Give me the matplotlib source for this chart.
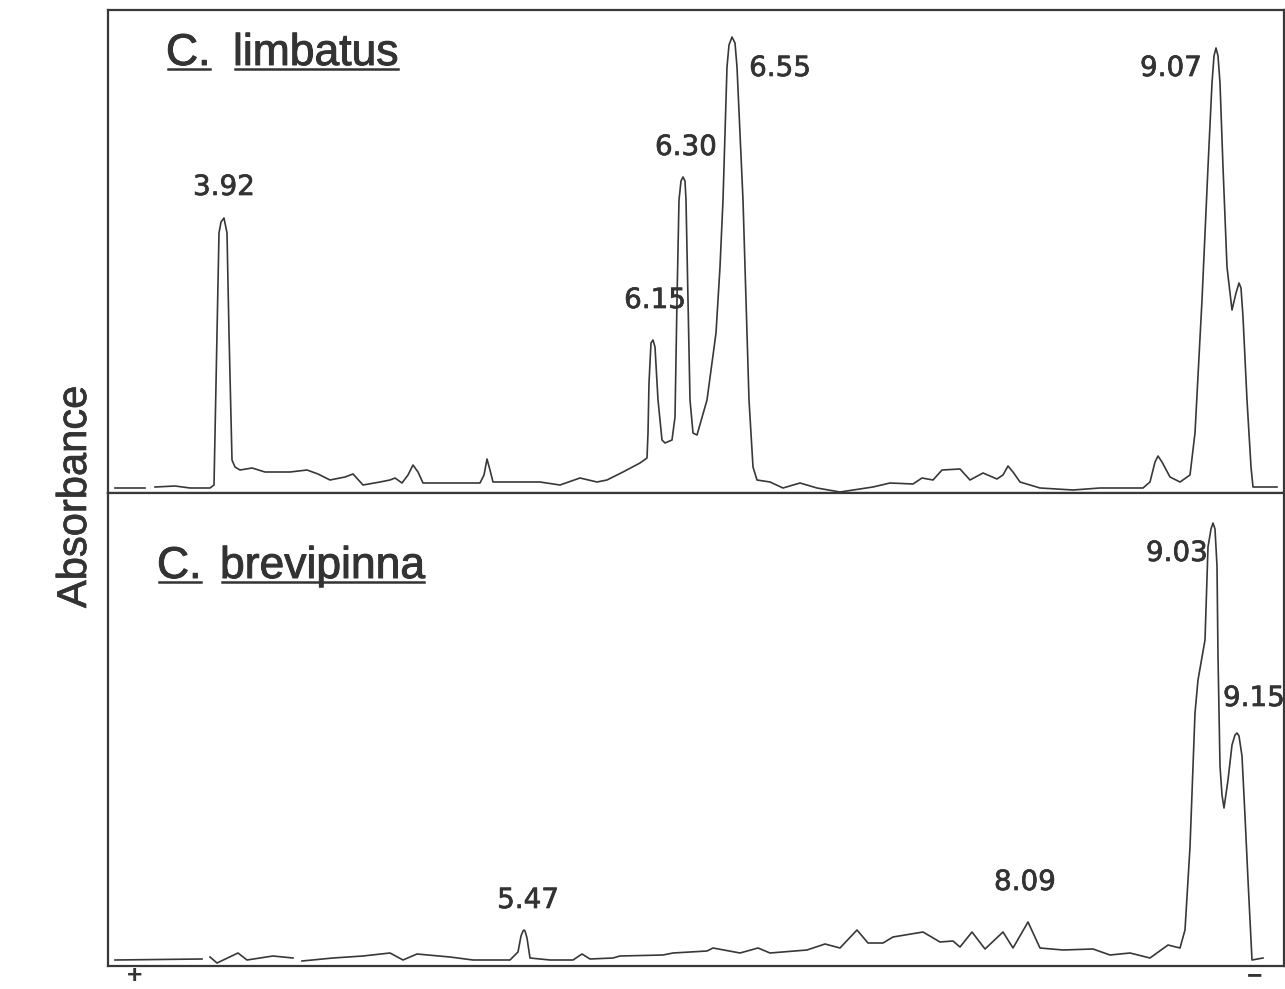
import matplotlib
matplotlib.use('Agg')
import matplotlib.pyplot as plt
from matplotlib.lines import Line2D
from matplotlib.transforms import IdentityTransform
import matplotlib.patheffects as pe

plt.rcParams['font.family'] = ['Liberation Sans', 'DejaVu Sans']

NAN = float('nan')

# ---- C. limbatus densitometer trace (position along gel, mm ; absorbance, arbitrary units)
top_x = [0.7, 3.7, NAN, 4.7, 6.7, 8.2, 10.2, 10.6, 10.9, 11.1, 11.3, 11.6, 11.9, 12.1, 12.4, 12.7,
         13.2, 14.4, 15.7, 18.2, 19.9, 21.0, 22.2, 23.7, 24.5, 25.5, 27.2, 28.2, 28.7, 29.4,
         30.0, 30.5, 31.0, 31.5, 34.2, 37.2, 37.6, 37.9, 38.2, 38.5, 43.2, 45.2, 47.2, 48.9,
         49.9, 51.5, 53.2, 53.9, 54.0, 54.1, 54.3, 54.5, 54.7, 55.0, 55.4, 55.7, 56.4,
         56.7, 56.9, 57.1, 57.3, 57.5, 57.7, 57.8, 58.0, 58.2, 58.5, 58.9,
         59.9, 60.8, 61.2, 61.5, 61.7, 61.9, 62.1, 62.4, 62.7, 62.9, 63.2, 63.5, 63.7, 63.9,
         64.1, 64.5, 64.9, 66.2, 67.5, 69.2, 70.9, 73.2, 76.5, 78.2, 80.5, 81.4, 82.5,
         83.4, 85.2, 86.2, 87.5, 88.9, 89.5, 90.0, 90.5, 91.2, 93.2, 96.5, 99.2, 103.5, 104.2,
         104.7, 105.0, 105.4, 106.2, 107.2, 108.2, 108.7, 109.4, 110.0, 110.4, 110.6, 110.8,
         111.0, 111.2, 111.5, 111.9, 112.4, 112.8, 113.1, 113.3, 113.5, 113.9, 114.3, 114.5,
         116.9]
top_y = [1.0, 1.0, NAN, 1.2, 1.4, 1.0, 1.0, 1.6, 32.0, 52.0, 54.2, 55.0, 52.0, 32.0, 6.6, 5.2,
         4.6, 5.0, 4.2, 4.2, 4.6, 3.8, 2.6, 3.2, 3.8, 1.6, 2.2, 2.6, 3.0, 2.0,
         3.6, 5.6, 4.2, 2.0, 2.0, 2.0, 3.6, 6.8, 4.6, 2.2, 2.2, 1.6, 3.0, 2.2,
         2.6, 4.2, 6.0, 7.0, 12.0, 22.0, 30.0, 30.6, 29.2, 18.6, 10.6, 10.0, 10.6,
         15.2, 38.6, 58.6, 62.4, 63.2, 62.4, 58.6, 38.6, 18.6, 12.0, 11.6,
         18.6, 32.0, 45.2, 58.6, 72.0, 85.2, 89.6, 91.2, 90.0, 85.2, 72.0, 58.6, 45.2, 32.0,
         18.6, 5.2, 2.6, 2.2, 1.0, 2.0, 1.0, 0.2, 1.2, 2.0, 1.8, 3.0, 2.6,
         4.6, 4.8, 2.6, 4.0, 2.8, 3.6, 5.4, 4.2, 2.2, 1.0, 0.6, 1.0, 1.0, 2.2,
         6.2, 7.4, 6.2, 3.2, 2.2, 3.6, 12.0, 38.6, 65.2, 82.0, 87.4, 89.0,
         87.4, 82.0, 65.2, 45.2, 36.6, 40.0, 42.0, 41.0, 35.2, 18.6, 5.2, 1.2,
         1.2]

# ---- C. brevipinna densitometer trace
bot_x = [0.7, 9.4, NAN, 10.2, 10.9, 13.0, 13.9, 16.5, 18.5, NAN, 19.4, 22.5, 25.5, 28.2,
         29.5, 30.9, 34.2, 36.5, 40.2, 41.0, 41.3, 41.5, 41.6, 41.7, 41.9, 42.2, 44.2, 46.5, 47.4,
         48.2, 50.5, 51.2, 55.5, 56.5, 59.9, 60.5, 63.2, 65.0, 66.2, 69.9, 71.7, 73.2,
         74.9, 76.0, 77.5, 78.5, 81.5, 83.2, 84.5, 85.2, 86.4, 87.7, 89.5, 90.5, 92.0,
         93.2, 95.5, 98.5, 100.2, 102.2, 104.2, 106.0, 107.2, 107.7, 108.2, 108.7, 109.0,
         109.7, 110.0, 110.3, 110.5, 110.7, 110.9, 111.0, 111.2, 111.4, 111.6, 112.0, 112.4,
         112.7, 112.9, 113.1, 113.4, 113.7, 114.0, 114.4, 115.5]
bot_y = [1.2, 1.4, NAN, 1.8, 0.6, 2.6, 1.2, 2.0, 1.6, NAN, 1.0, 1.6, 2.0, 2.6,
         1.2, 2.4, 1.8, 1.2, 1.2, 2.8, 6.0, 7.0, 7.2, 7.0, 5.6, 1.6, 1.2, 1.2, 2.4,
         1.4, 1.6, 2.0, 2.2, 2.6, 3.0, 3.6, 2.6, 3.6, 2.6, 3.2, 4.4, 3.6,
         7.2, 4.6, 4.6, 5.8, 6.8, 4.8, 5.0, 3.8, 6.8, 3.4, 6.8, 3.6, 8.8,
         3.6, 3.2, 3.4, 2.2, 2.6, 1.6, 4.2, 3.6, 7.2, 23.8, 50.6, 57.2,
         65.2, 83.8, 87.4, 88.6, 87.4, 80.0, 62.0, 40.0, 34.2, 31.6, 37.2, 44.2,
         46.2, 46.6, 46.0, 42.0, 30.0, 17.2, 1.2, 1.6]

top_labels = ['3.92', '6.15', '6.30', '6.55', '9.07']
bot_labels = ['5.47', '8.09', '9.03', '9.15']

INK = '#383838'
TXT = '#333333'
thick = [pe.withStroke(linewidth=0.7, foreground=TXT)]

fig = plt.figure(figsize=(12.85, 9.89), dpi=100)
W, H = 1285, 989
left = 108 / W
width = 1176 / W
ax1 = fig.add_axes([left, 1 - 493 / H, width, 483 / H])
ax2 = fig.add_axes([left, 1 - 966 / H, width, 473 / H])

for ax, ytop in ((ax1, 96.6), (ax2, 94.6)):
    ax.set_xlim(0, 117.6)
    ax.set_ylim(0, ytop)
    ax.set_xticks([])
    ax.set_yticks([])
    for s in ax.spines.values():
        s.set_linewidth(1.6)
        s.set_color(INK)

ax1.plot(top_x, top_y, color=INK, lw=1.2, solid_joinstyle='round')
ax2.plot(bot_x, bot_y, color=INK, lw=1.2, solid_joinstyle='round')

# peak labels (layout positions)
top_lab_pos = [(11.6, 61.2, 'center'), (54.7, 38.6, 'center'), (57.8, 69.2, 'center'),
               (67.2, 85.0, 'center'), (106.3, 85.0, 'center')]
bot_lab_pos = [(42.0, 13.2, 'center'), (91.7, 16.8, 'center'), (106.9, 82.6, 'center'),
               (111.5, 53.6, 'left')]
lab_font = dict(fontsize=20, color=TXT, family=['DejaVu Sans'], va='center',
                path_effects=[pe.withStroke(linewidth=0.5, foreground=TXT)])
for lab, (x, y, ha) in zip(top_labels, top_lab_pos):
    ax1.text(x, y, lab, ha=ha, **lab_font)
for lab, (x, y, ha) in zip(bot_labels, bot_lab_pos):
    ax2.text(x, y, lab, ha=ha, **lab_font)

# species titles
titles = []
tfont = dict(fontsize=32, color=TXT, ha='left', va='baseline', path_effects=thick)
titles.append(ax1.text(5.8, 85.6, 'C.', **tfont))
titles.append(ax1.text(12.5, 85.6, 'limbatus', **tfont))
titles.append(ax2.text(4.9, 77.6, 'C.', **tfont))
titles.append(ax2.text(11.2, 77.6, 'brevipinna', **tfont))

fig.text(75 / W, 1 - 497 / H, 'Absorbance', rotation=90, fontsize=30, color=TXT,
         ha='center', va='center', path_effects=[pe.withStroke(linewidth=0.5, foreground=TXT)])
fig.text(135 / W, 1 - 988 / H, '+', fontsize=19, fontweight='bold', color=TXT,
         ha='center', va='bottom')
fig.text(1255 / W, 1 - 988 / H, '\u2212', fontsize=19, fontweight='bold', color=TXT,
         ha='center', va='bottom')

fig.canvas.draw()
r = fig.canvas.get_renderer()
for t in titles:
    bb = t.get_window_extent(r)
    xb, yb = t.get_position()
    _, ydisp = t.axes.transData.transform((xb, yb))
    fig.add_artist(Line2D([bb.x0 + 2, bb.x1 - 1], [ydisp - 4, ydisp - 4],
                          transform=IdentityTransform(), color=TXT, lw=1.8))

fig.savefig('out.png', dpi=100, facecolor='white')
